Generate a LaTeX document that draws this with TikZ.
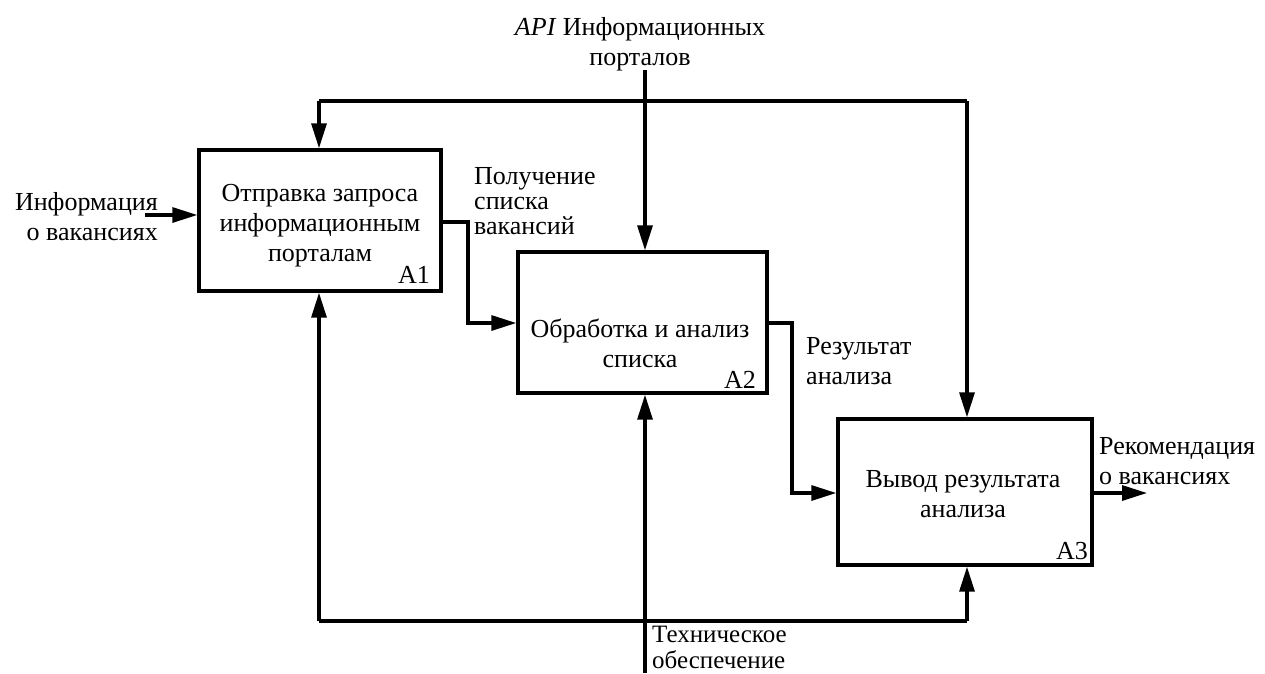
\documentclass[tikz,border=0pt]{standalone}
\usepackage{fontspec}
\setmainfont{Liberation Serif}
\usetikzlibrary{arrows.meta}
\begin{document}
\begin{tikzpicture}[x=1pt,y=-1pt,
  every node/.style={font=\fontsize{26}{30}\selectfont},
  fbox/.style={draw,line width=3.4pt,inner sep=0pt},
  conn/.style={line width=3.2pt,-{Triangle[length=25pt,width=15pt]}},
  plain/.style={line width=3.2pt},
  lbl/.style={align=left,inner sep=0pt},
  lblr/.style={align=right,inner sep=0pt},
  lblc/.style={align=center,inner sep=0pt},
  num/.style={inner sep=0pt,anchor=base east}]
\useasboundingbox (0,0) rectangle (1265,673);
% boxes
\node[fbox,minimum width=242pt,minimum height=141pt] (A1) at (320,220.5) {};
\node[fbox,minimum width=249pt,minimum height=141pt] (A2) at (642.5,322.5) {};
\node[fbox,minimum width=254pt,minimum height=146pt] (A3) at (965,492) {};
% box texts
\node[lblc] (t1) at (320,226) {Отправка запроса\\информационным\\порталам};
\node[lblc] (t2) at (640,343) {Обработка и анализ\\списка};
\node[lblc] (t3) at (963,494) {Вывод результата\\анализа};
\node[num] (n1) at (430,283) {A1};
\node[num] (n2) at (756,388) {A2};
\node[num] (n3) at (1088,559) {A3};
% labels
\node[lblr,anchor=east] (lin) at (158,217) {Информация\\о вакансиях};
\node[lblc] (lapi) at (640,44) {\textit{API} Информационных\\порталов};
\node[lbl,anchor=west,font=\fontsize{26}{25}\selectfont] (lpol) at (474,201) {Получение\\списка\\вакансий};
\node[lbl,anchor=west] (lres) at (806,361) {Результат\\анализа};
\node[lbl,anchor=west] (lrec) at (1099,461) {Рекомендация\\о вакансиях};
\node[lbl,anchor=west,font=\fontsize{25}{26}\selectfont] (ltech) at (652,647) {Техническое\\обеспечение};
% free ends
\coordinate (inS) at (145,215);
\coordinate (apiS) at (645,70);
\coordinate (techS) at (645,673);
\coordinate (outE) at (1147,493);
% input
\draw[conn] (inS) -- (inS -| A1.west);
% control API
\draw[conn] (apiS) -- (apiS |- A2.north);
% feedback top
\coordinate (fbL) at (319,101);
\coordinate (fbR) at (967,101);
\draw[plain] (fbL) -- (fbR);
\draw[conn] (fbL) -- (fbL |- A1.north);
\draw[conn] (fbR) -- (fbR |- A3.north);
% A1 -> A2
\draw[conn] (A1.east |- 0,222) -| (468,323) -- (A2.west |- 0,323);
% A2 -> A3
\draw[conn] (A2.east |- 0,323) -| (792,493) -- (A3.west |- 0,493);
% output
\draw[conn] (A3.east |- outE) -- (outE);
% mechanism bottom
\coordinate (mbL) at (319,621);
\coordinate (mbR) at (967,621);
\draw[plain] (mbL) -- (mbR);
\draw[conn] (mbL) -- (mbL |- A1.south);
\draw[conn] (mbR) -- (mbR |- A3.south);
\draw[conn] (techS) -- (techS |- A2.south);
\end{tikzpicture}
\end{document}
